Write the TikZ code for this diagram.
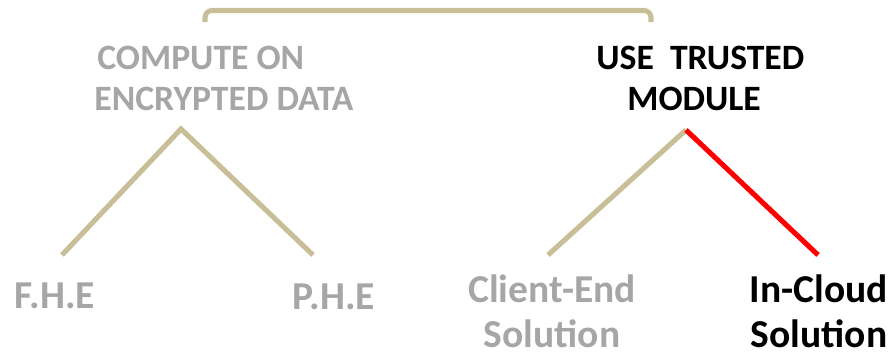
\documentclass[tikz,border=0pt]{standalone}
\usepackage{fontspec}
\setmainfont{Carlito}
\usetikzlibrary{positioning}

\definecolor{tan}{RGB}{200,191,153}
\definecolor{lightgray}{RGB}{166,166,166}
\definecolor{brightred}{RGB}{255,0,0}

\begin{document}
\begin{tikzpicture}[
  x=0.02cm, y=-0.02cm,
  branch/.style={draw=tan, line width=2.9pt},
  chosen/.style={draw=brightred, line width=2.9pt},
  every node/.style={inner sep=0pt, font=\bfseries},
  choice/.style={font=\bfseries\fontsize{20.3}{23}\selectfont, align=left, anchor=north west},
  leaf/.style={font=\bfseries\fontsize{22.5}{26}\selectfont, align=center, anchor=north}
]
\useasboundingbox (0,0) rectangle (895,359);

% bracket on top
\draw[branch, rounded corners=4pt] (205,22) -- (205,10.5) -- (651,10.5) -- (651,22);

% the two approaches
\node[choice, text=lightgray] (encrypted) at (94,46)
  {\hspace*{0.06cm}COMPUTE ON\\ENCRYPTED DATA};
\node[choice] (trusted) at (596,46)
  {USE~~TRUSTED\\\hspace*{0.62cm}MODULE};

% leaves
\node[leaf, text=lightgray] (fhe) at (55,283) {F.H.E};
\node[leaf, text=lightgray] (phe) at (334,284) {P.H.E};
\node[leaf, text=lightgray] (client) at (552,274) {Client-End\\Solution};
\node[leaf] (cloud) at (819,274) {In-Cloud\\Solution};

\coordinate (apexL) at (181,129);
\coordinate (apexR) at (686,130);
\coordinate (fheEnd) at (62,255);
\coordinate (pheEnd) at (313,255);
\coordinate (clientEnd) at (548,255);
\coordinate (cloudEnd) at (818,255);

\draw[branch] (fheEnd) -- (apexL) -- (pheEnd);
\draw[branch] (clientEnd) -- (apexR);
\draw[chosen] (apexR) -- (cloudEnd);
\end{tikzpicture}
\end{document}
